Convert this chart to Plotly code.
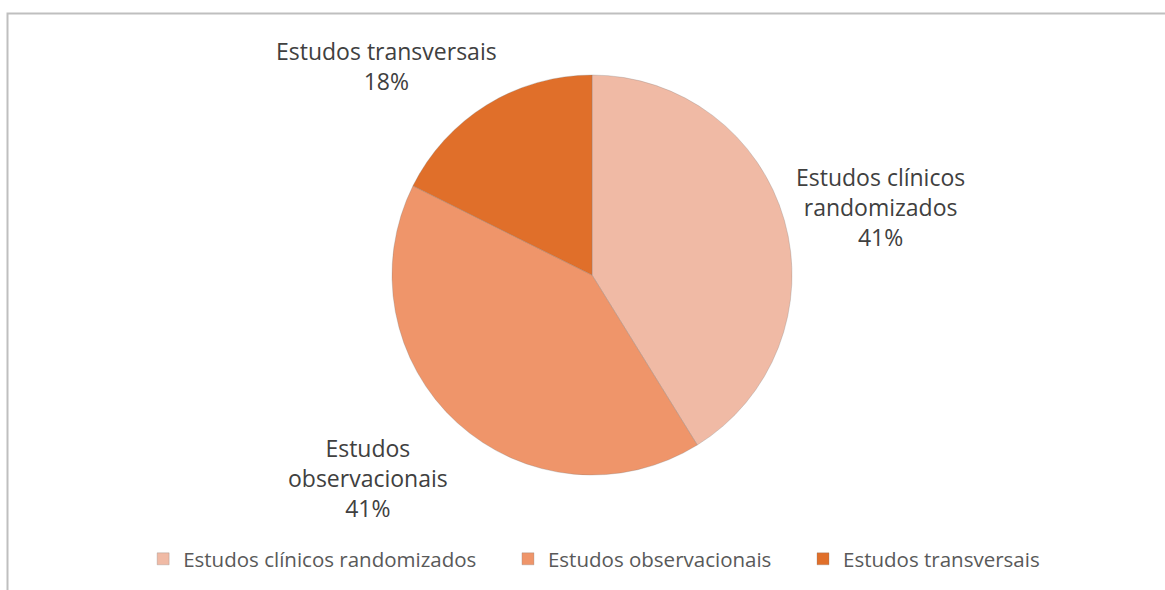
import plotly.graph_objects as go

categories = ["Estudos clínicos randomizados", "Estudos observacionais", "Estudos transversais"]
label_lines = ["Estudos clínicos<br>randomizados", "Estudos<br>observacionais", "Estudos transversais"]
values = [7, 7, 3]
colors = ["#F0BAA5", "#EF956A", "#E06F2A"]

W, H = 1165, 590
total = sum(values)
pcts = [round(v / total * 100) for v in values]

# trailing spacing so legend entries sit as far apart as in the reference
legend_names = [c + "\u00a0" * 5 for c in categories[:-1]] + [categories[-1]]

fig = go.Figure(go.Pie(
    labels=legend_names,
    values=values,
    sort=False,
    direction="clockwise",
    rotation=0,
    textinfo="none",
    hovertemplate="%{label}: %{percent}<extra></extra>",
    marker=dict(colors=colors, line=dict(color="rgba(120,120,120,0.35)", width=0.8)),
    domain=dict(x=[392 / W, 792 / W], y=[1 - 475 / H, 1 - 75 / H]),
))

# label anchor positions (pixels) for the outside data labels
label_pos = [(880, 207), (368, 478), (387, 66)]
for txt, p, (px, py) in zip(label_lines, pcts, label_pos):
    fig.add_annotation(
        x=px / W, y=1 - py / H, xref="paper", yref="paper",
        text=f"{txt}<br>{p}%", showarrow=False,
        font=dict(family="Open Sans, sans-serif", size=23, color="#404040"),
        align="center", xanchor="center", yanchor="middle",
    )

fig.add_shape(type="rect", xref="paper", yref="paper",
              x0=7.5 / W, x1=1.02, y0=-0.05, y1=1 - 13.5 / H,
              line=dict(color="#BFBFBF", width=2), fillcolor="rgba(0,0,0,0)")

fig.update_layout(
    width=W, height=H,
    margin=dict(l=0, r=0, t=0, b=0),
    paper_bgcolor="white", plot_bgcolor="white",
    showlegend=True,
    legend=dict(orientation="h", x=0.51, xanchor="center", y=1 - 559 / H, yanchor="middle",
                font=dict(family="Open Sans, sans-serif", size=20.5, color="#595959"),
                itemwidth=30, traceorder="normal"),
)

fig.write_html("out.html")
